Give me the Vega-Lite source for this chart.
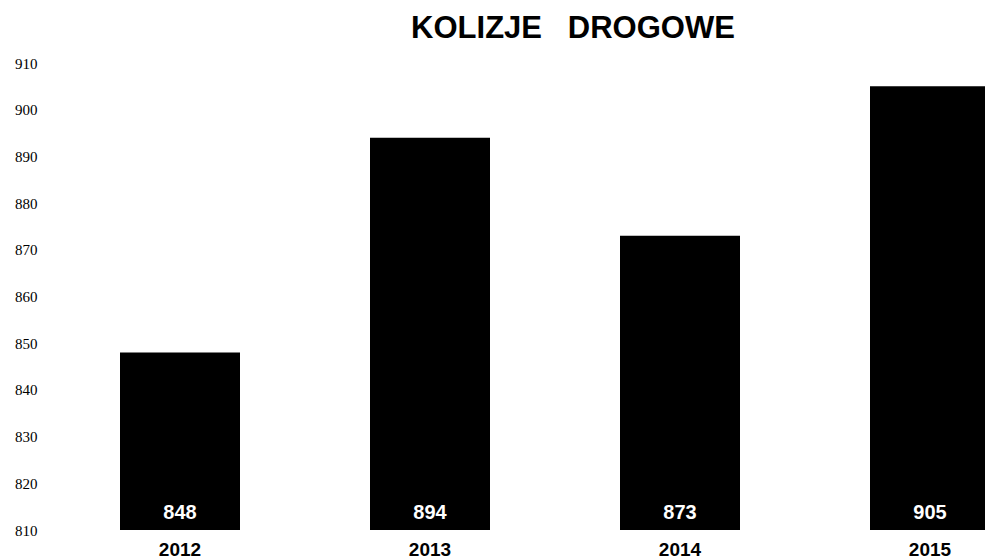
{
  "$schema": "https://vega.github.io/schema/vega-lite/v6.json",
  "autosize": "none",
  "padding": {"left": 55, "top": 63, "right": 0, "bottom": 29},
  "width": 1000,
  "height": 467,
  "background": "white",
  "title": {
    "text": "KOLIZJE\u00a0\u00a0\u00a0DROGOWE",
    "font": "Liberation Sans",
    "fontSize": 31,
    "fontWeight": "bold",
    "color": "black",
    "anchor": "middle",
    "dx": 18,
    "offset": 11
  },
  "data": {
    "values": [
      {"rok": "2012", "kolizje": 848},
      {"rok": "2013", "kolizje": 894},
      {"rok": "2014", "kolizje": 873},
      {"rok": "2015", "kolizje": 905}
    ]
  },
  "config": {"view": {"stroke": null}},
  "encoding": {
    "x": {
      "field": "rok",
      "type": "ordinal",
      "scale": {"paddingInner": 0.52, "paddingOuter": 0.26},
      "axis": {
        "title": null,
        "labelAngle": 0,
        "domain": false,
        "ticks": false,
        "labelFont": "Liberation Sans",
        "labelFontWeight": "bold",
        "labelFontSize": 19,
        "labelColor": "black",
        "labelPadding": 10
      }
    }
  },
  "layer": [
    {
      "mark": {"type": "bar", "color": "black"},
      "encoding": {
        "y": {
          "field": "kolizje",
          "type": "quantitative",
          "scale": {"domain": [810, 910], "zero": false, "nice": false},
          "axis": {
            "title": null,
            "values": [810, 820, 830, 840, 850, 860, 870, 880, 890, 900, 910],
            "domain": false,
            "ticks": false,
            "grid": false,
            "labelFont": "Liberation Serif",
            "labelFontSize": 15,
            "labelColor": "black",
            "labelPadding": 18
          }
        },
        "y2": {"datum": 810}
      }
    },
    {
      "mark": {
        "type": "text",
        "color": "white",
        "font": "Liberation Sans",
        "fontWeight": "bold",
        "fontSize": 20,
        "dy": -17
      },
      "encoding": {
        "y": {"datum": 810},
        "text": {"field": "kolizje", "type": "quantitative"}
      }
    }
  ]
}
